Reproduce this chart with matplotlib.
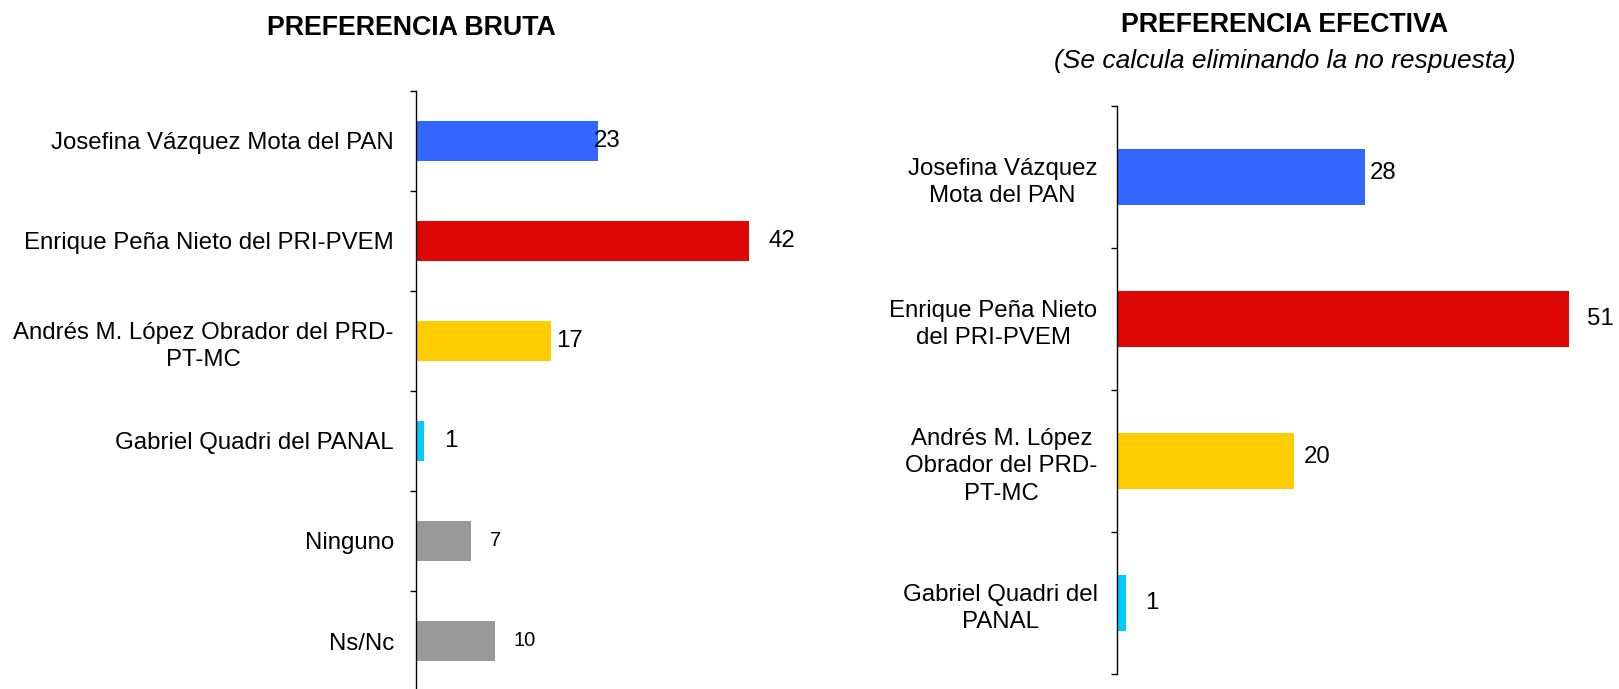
import numpy as np
import matplotlib
matplotlib.use("Agg")
import matplotlib.pyplot as plt

plt.rcParams['font.family'] = ['Liberation Sans', 'DejaVu Sans']

# Preferencia bruta
bruta_labels = ["Josefina Vázquez Mota del PAN",
                "Enrique Peña Nieto del PRI-PVEM",
                "Andrés M. López Obrador del PRD-\nPT-MC",
                "Gabriel Quadri del PANAL",
                "Ninguno",
                "Ns/Nc"]
bruta_values = [23, 42, 17, 1, 7, 10]

# Preferencia efectiva
efectiva_labels = ["Josefina Vázquez\nMota del PAN",
                   "Enrique Peña Nieto\ndel PRI-PVEM",
                   "Andrés M. López\nObrador del PRD-\nPT-MC",
                   "Gabriel Quadri del\nPANAL"]
efectiva_values = [28, 51, 20, 1]

colors = ["#3366FF", "#DD0806", "#FFCC00", "#00CCFF", "#999999", "#999999"]

# value label offsets (pixels) and sizes, per bar
bruta_pad = [-4, 20, 5, 20, 19, 18]
bruta_lsize = [17.3, 17.3, 17.3, 17.3, 14.5, 14.5]
efectiva_pad = [5, 18, 10, 19]
efectiva_dy = [4, 0, 4, 0]


def draw_panel(ax, labels, values, xmax, pad, lsize, dy, label_pad):
    n = len(values)
    y = np.arange(n)
    ax.barh(y, values, height=0.4, color=colors[:n])
    ax.set_ylim(n - 0.5, -0.5)
    ax.set_xlim(0, xmax)
    ax.set_yticks(y)
    ax.set_yticklabels(labels, fontsize=17.3, multialignment='center',
                       linespacing=1.32)
    ax.set_yticks(np.arange(n + 1) - 0.5, minor=True)
    ax.tick_params(axis='y', which='major', length=0, pad=label_pad)
    ax.tick_params(axis='y', which='minor', length=4, width=1, direction='out')
    ax.set_xticks([])
    for s in ['top', 'right', 'bottom']:
        ax.spines[s].set_visible(False)
    ax.spines['left'].set_linewidth(1)
    for i, v in enumerate(values):
        ax.annotate(str(v), (v, i), xytext=(pad[i], dy[i]),
                    textcoords='offset pixels', ha='left', va='center',
                    fontsize=lsize[i])


fig = plt.figure(figsize=(16.19, 6.89), dpi=100)

ax1 = fig.add_axes([416 / 1619, -2 / 689, 396 / 1619, 600 / 689])
draw_panel(ax1, bruta_labels, bruta_values, 50, bruta_pad, bruta_lsize,
           [0] * 6, 16)

ax2 = fig.add_axes([1117 / 1619, 15 / 689, 496 / 1619, 568 / 689])
draw_panel(ax2, efectiva_labels, efectiva_values, 56, efectiva_pad,
           [17.3] * 4, efectiva_dy, 14)

fig.text(411 / 1619, 1 - 28 / 689, "PREFERENCIA BRUTA", ha='center',
         va='center', fontsize=19.3, fontweight='bold')
fig.text(1285 / 1619, 1 - 25 / 689, "PREFERENCIA EFECTIVA", ha='center',
         va='center', fontsize=19.3, fontweight='bold')
fig.text(1285 / 1619, 1 - 61 / 689, "(Se calcula eliminando la no respuesta)",
         ha='center', va='center', fontsize=19, style='italic')

fig.savefig("out.png", dpi=100)
